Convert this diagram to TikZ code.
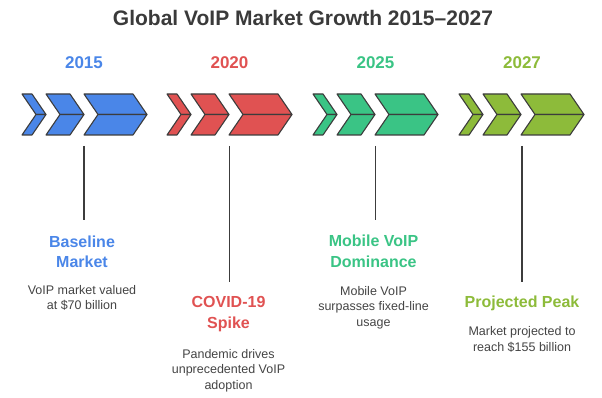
\documentclass[tikz,border=0pt]{standalone}
\usepackage{fontspec}
\setmainfont{Liberation Sans}
\definecolor{cblue}{RGB}{74,134,232}
\definecolor{cred}{RGB}{224,82,82}
\definecolor{cgreen}{RGB}{58,196,133}
\definecolor{colive}{RGB}{141,187,58}
\definecolor{edge}{RGB}{60,60,60}
\definecolor{titlegray}{RGB}{58,58,58}
\definecolor{bodygray}{RGB}{68,68,68}
\newcommand\mychev[3]{%
  \filldraw[chevpart, fill=#3] (#1,94) -- (#2,94) -- ({#2+14},114.5) -- ({#1+14},114.5) -- cycle;
  \filldraw[chevpart, fill=#3] ({#1+14},114.5) -- ({#2+14},114.5) -- (#2,135) -- (#1,135) -- cycle;
}
\newcommand\mychevgroup[2]{%
  \mychev{#1}{#1+10}{#2}
  \mychev{#1+24}{#1+48}{#2}
  \mychev{#1+62}{#1+111}{#2}
}
\begin{document}
\begin{tikzpicture}[x=1pt,y=-1pt,
  chevpart/.style={draw=edge, line width=1.1pt, line join=round},
  titletext/.style={font=\bfseries\fontsize{21}{25}\selectfont, text=titlegray},
  yeartext/.style={font=\bfseries\fontsize{17}{20}\selectfont},
  headtext/.style={font=\bfseries\fontsize{16}{20.5}\selectfont, align=center},
  bodytext/.style={font=\fontsize{12.5}{15.7}\selectfont, text=bodygray, align=center},
  stem/.style={draw=edge, line width=1.4pt}]
\useasboundingbox (0,0) rectangle (602,398);
\node[titletext] (title) at (303,18) {Global VoIP Market Growth 2015–2027};

\mychevgroup{22}{cblue}
\mychevgroup{167}{cred}
\mychevgroup{313}{cgreen}
\mychevgroup{459}{colive}

\node[yeartext, text=cblue] (y1) at (84,63) {2015};
\node[yeartext, text=cred] (y2) at (229.5,63) {2020};
\node[yeartext, text=cgreen] (y3) at (375.5,63) {2025};
\node[yeartext, text=colive] (y4) at (522,63) {2027};

\coordinate (s1a) at (84,146); \coordinate (s1b) at (84,220);
\coordinate (s2a) at (229.5,146); \coordinate (s2b) at (229.5,282);
\coordinate (s3a) at (375.5,146); \coordinate (s3b) at (375.5,220);
\coordinate (s4a) at (522,146); \coordinate (s4b) at (522,282);
\draw[stem] (s1a) -- (s1b);
\draw[stem] (s2a) -- (s2b);
\draw[stem] (s3a) -- (s3b);
\draw[stem] (s4a) -- (s4b);

\node[headtext, text=cblue] (h1) at (82,252) {Baseline\\Market};
\node[bodytext] (b1) at (82,298) {VoIP market valued\\at \$70 billion};

\node[headtext, text=cred] (h2) at (228.5,314) {COVID-19\\Spike};
\node[bodytext] (b2) at (228.5,370.5) {Pandemic drives\\unprecedented VoIP\\adoption};

\node[headtext, text=cgreen] (h3) at (373.5,251.5) {Mobile VoIP\\Dominance};
\node[bodytext] (b3) at (373.5,307.5) {Mobile VoIP\\surpasses fixed-line\\usage};

\node[headtext, text=colive] (h4) at (522,303.5) {Projected Peak};
\node[bodytext] (b4) at (522,339.5) {Market projected to\\reach \$155 billion};
\end{tikzpicture}
\end{document}
